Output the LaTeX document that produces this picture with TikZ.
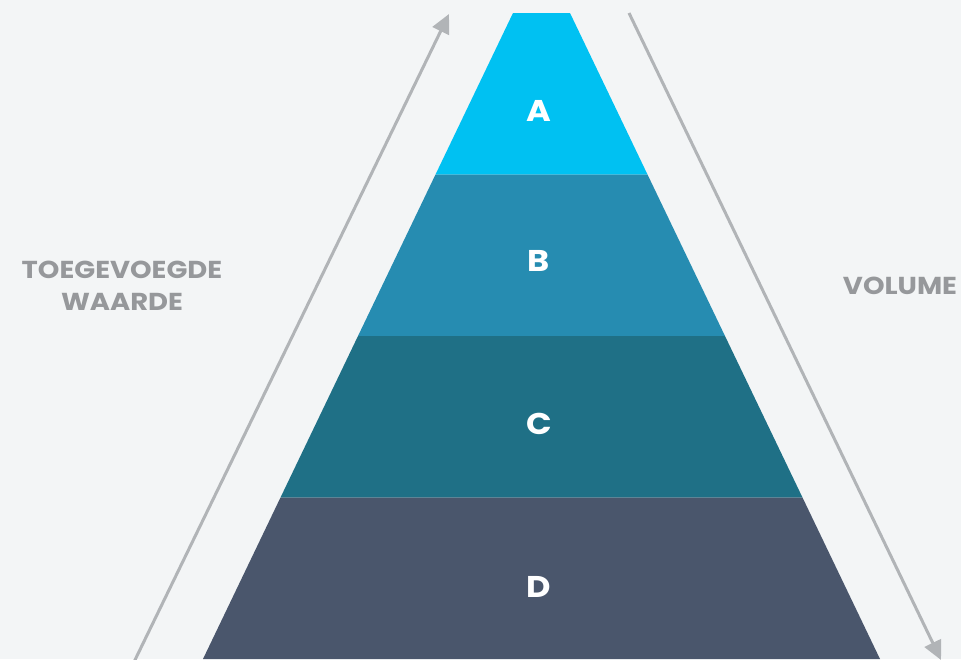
\documentclass[tikz,border=0pt]{standalone}
\usepackage{fontspec}
\setmainfont{Poppins}
\newfontfamily\widefont[FakeStretch=1.12]{Poppins}
\usepackage{tikz}
\usetikzlibrary{calc,arrows.meta}

\definecolor{bgcol}{RGB}{243,245,246}
\definecolor{layerA}{RGB}{0,193,242}
\definecolor{layerB}{RGB}{38,140,177}
\definecolor{layerC}{RGB}{31,112,134}
\definecolor{layerD}{RGB}{74,86,108}
\definecolor{arrowcol}{RGB}{177,180,183}
\definecolor{labelcol}{RGB}{150,152,155}

\begin{document}
\begin{tikzpicture}[x=1pt, y=-1pt]

        \tikzset{
            layerlabel/.style={text=white,
                font=\widefont\fontsize{30}{30}\selectfont\bfseries},
            sidelabel/.style={text=labelcol, align=center,
                font=\widefont\fontsize{24.5}{32}\selectfont\bfseries},
            sidearrow/.style={draw=arrowcol, line width=3pt,
                -{Triangle[length=19pt, width=18pt]}}
        }

        % Background of the whole picture, fixes the margins
        \fill[bgcol] (0, 0) rectangle (961, 659);
        \useasboundingbox (0, 0) rectangle (961, 659);

        % Corners of the pyramid, top and bottom
        \begin{scope}
            \coordinate (T1) at (513, 13);
            \coordinate (T2) at (570, 13);
            \coordinate (B1) at (203, 659);
            \coordinate (B2) at (880, 659);

            % band edges, at a quarter of the height each
            \coordinate (L1) at ($(T1)!0.25!(B1)$);
            \coordinate (R1) at ($(T2)!0.25!(B2)$);
            \coordinate (L2) at ($(T1)!0.5!(B1)$);
            \coordinate (R2) at ($(T2)!0.5!(B2)$);
            \coordinate (L3) at ($(T1)!0.75!(B1)$);
            \coordinate (R3) at ($(T2)!0.75!(B2)$);
        \end{scope}

        % The four layers of the pyramid
        \begin{scope}
            \fill[layerA] (T1) -- (T2) -- (R1) -- (L1) -- cycle;
            \fill[layerB] (L1) -- (R1) -- (R2) -- (L2) -- cycle;
            \fill[layerC] (L2) -- (R2) -- (R3) -- (L3) -- cycle;
            \fill[layerD] (L3) -- (R3) -- (B2) -- (B1) -- cycle;
        \end{scope}

        \node[layerlabel] (A) at (539, 111) {A};
        \node[layerlabel] (B) at (539, 261) {B};
        \node[layerlabel] (C) at (539, 424) {C};
        \node[layerlabel] (D) at (539, 587) {D};

        % Labels at the two sides
        \node[sidelabel] (waarde) at (122, 286) {TOEGEVOEGDE\\WAARDE};
        \node[sidelabel] (volume) at (900, 286) {VOLUME};

        % Arrows along the sides of the pyramid
        \begin{scope}
            \coordinate (up1) at (134, 662);
            \coordinate (up2) at (449, 14);
            \coordinate (down1) at (629, 13);
            \coordinate (down2) at (941, 660);

            \draw[sidearrow] (up1) -- (up2);
            \draw[sidearrow] (down1) -- (down2);
        \end{scope}

\end{tikzpicture}
\end{document}
